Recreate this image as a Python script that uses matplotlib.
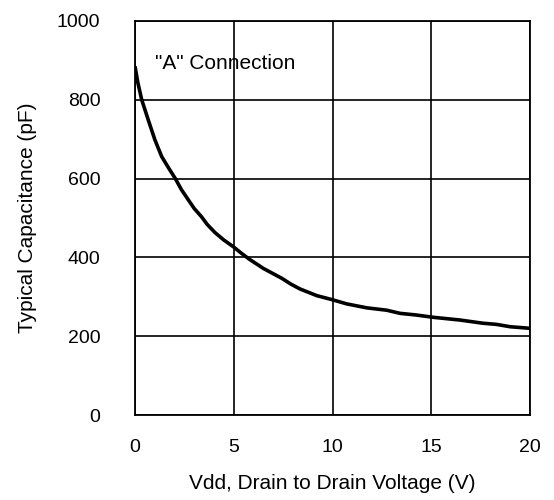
import matplotlib
matplotlib.use('Agg')
import matplotlib.pyplot as plt

# values
vdd = [0, 0.15, 0.34, 0.67, 1.01, 1.35, 1.7, 2.03, 2.35, 2.7, 3.0, 3.37,
       3.65, 4.05, 4.5, 4.98, 5.4, 5.8, 6.5, 7.43, 7.9, 8.35, 9.2, 9.96,
       10.72, 11.73, 12.74, 13.42, 14.2, 15.1, 16.46, 17.6, 18.3, 19.0, 20]
cap = [885, 842, 800, 749, 698, 656, 627, 601, 572, 546, 524, 503,
       484, 463, 444, 427, 410, 395, 372, 347, 332, 320, 303, 293,
       282, 272, 266, 258, 254, 248, 241, 233, 230, 224, 220]

x_ticks = [0, 5, 10, 15, 20]
y_ticks = [0, 200, 400, 600, 800, 1000]

plt.rcParams['font.family'] = ['Liberation Sans', 'DejaVu Sans']

fig = plt.figure(figsize=(5.54, 5.0), dpi=100)
ax = fig.add_axes([0.2437, 0.17, 0.713, 0.788])

ax.plot(vdd, cap, color='black', linewidth=2.6, solid_capstyle='butt')

ax.set_xlim(0, 20)
ax.set_ylim(0, 1000)
ax.set_xticks(x_ticks)
ax.set_yticks(y_ticks)
ax.grid(True, color='black', linewidth=1.2)
ax.tick_params(length=0, labelsize=14)
ax.tick_params(axis='y', pad=25)
ax.tick_params(axis='x', pad=17)
for s in ax.spines.values():
    s.set_linewidth(1.3)

ax.text(1.0, 893, '"A" Connection', fontsize=15, va='center', ha='left')
ax.set_xlabel('Vdd, Drain to Drain Voltage (V)', fontsize=15, labelpad=13)
ax.set_ylabel('Typical Capacitance (pF)', fontsize=15, labelpad=14)

fig.savefig('out.png', dpi=100)
